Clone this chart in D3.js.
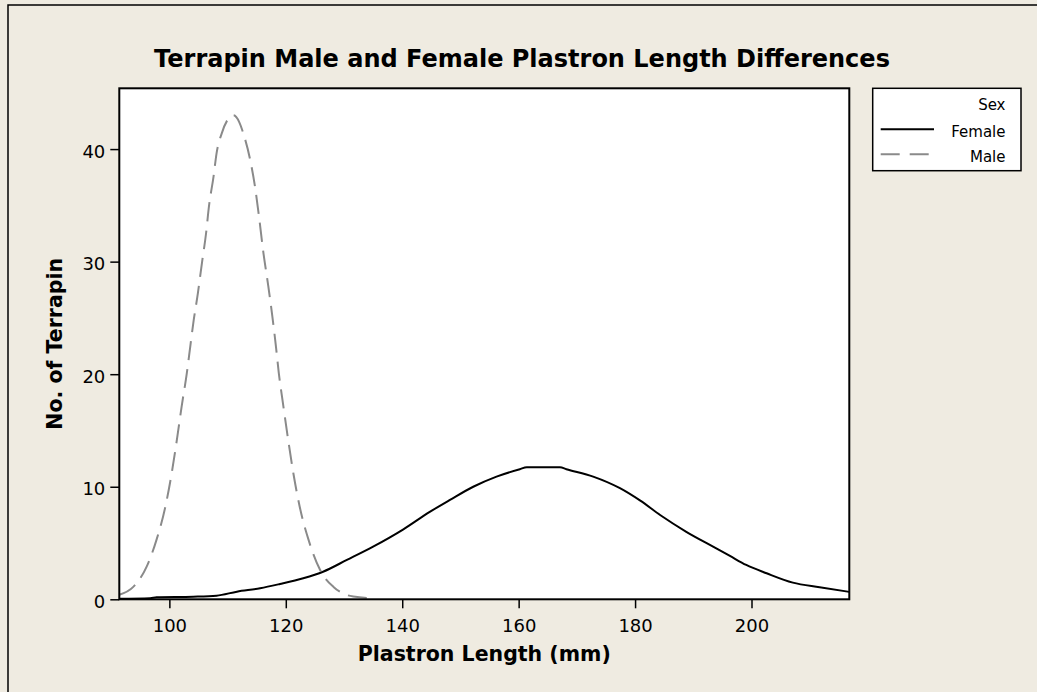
<!DOCTYPE html>
<html>
<head>
<meta charset="utf-8">
<script src="https://cdn.jsdelivr.net/npm/d3@7/dist/d3.min.js"></script>
<style>
  body { margin: 0; background: #efebe1; }
  text { font-family: "DejaVu Sans", Verdana, sans-serif; }
</style>
</head>
<body>
<div id="chart"></div>
<script>
// Values
const femaleLength = [91.4, 96.7, 97.8, 104.1, 108.1, 111.6, 115.6, 119.0, 123.0, 126.4, 130.5, 135.0,
  140.2, 144.8, 148.2, 152.2, 156.2, 160.2, 161.4, 167.1, 168.2, 172.8, 177.4, 180.9, 184.3,
  188.8, 193.4, 196.3, 199.1, 202.6, 207.1, 211.7, 216.8];
const femaleCount = [0.05, 0.1, 0.18, 0.23, 0.32, 0.68, 0.98, 1.36, 1.87, 2.45, 3.5, 4.68,
  6.22, 7.79, 8.83, 10.0, 10.9, 11.56, 11.73, 11.73, 11.56, 10.9, 9.87, 8.76, 7.49,
  6.0, 4.68, 3.85, 3.05, 2.31, 1.48, 1.07, 0.66];

const maleLength = [91.4, 93.8, 96.1, 97.8, 99.3, 100.4, 101.3, 102.1, 103.0, 103.6, 104.1, 104.9,
  105.6, 106.3, 106.8, 107.6, 108.1, 109.0, 110.0, 111.0, 112.0, 112.7, 113.9, 114.7, 115.4,
  116.1, 117.0, 117.7, 118.3, 118.8, 119.6, 120.4, 121.3, 122.4, 123.9, 125.9, 128.2, 129.9,
  131.6, 135.0];
const maleCount = [0.4, 1.1, 2.9, 5.3, 8.2, 11.2, 14.2, 17.1, 20.1, 22.5, 24.5, 27.2,
  29.9, 32.5, 34.9, 37.6, 39.6, 41.4, 42.6, 43.0, 42.4, 41.4, 39.0, 36.7, 34.0,
  31.0, 27.8, 25.1, 22.5, 20.1, 17.1, 14.2, 11.2, 8.2, 5.3, 2.6, 1.1, 0.5,
  0.25, 0.1];

const xTicks = [100, 120, 140, 160, 180, 200];
const yTicks = [0, 10, 20, 30, 40];
const seriesNames = ["Female", "Male"];

const width = 1037, height = 692;
const plot = { left: 119.3, right: 849.3, top: 88.3, bottom: 599.3 };

const svg = d3.select("#chart")
  .append("svg")
  .attr("width", width)
  .attr("height", height);

// page background and border (only top/left edge visible)
svg.append("rect").attr("width", width).attr("height", height).attr("fill", "#efebe1");
svg.append("path")
  .attr("d", `M8,${height} L8,5 L${width},5`)
  .attr("fill", "none")
  .attr("stroke", "#000")
  .attr("stroke-width", 1.5);

const x = d3.scaleLinear().domain([91.4, 216.8]).range([plot.left, plot.right]);
const y = d3.scaleLinear().domain([0, 45.4]).range([plot.bottom, plot.top]);

// plot area
svg.append("rect")
  .attr("x", plot.left).attr("y", plot.top)
  .attr("width", plot.right - plot.left).attr("height", plot.bottom - plot.top)
  .attr("fill", "#fff");

svg.append("clipPath").attr("id", "clip")
  .append("rect")
  .attr("x", plot.left).attr("y", plot.top)
  .attr("width", plot.right - plot.left).attr("height", plot.bottom - plot.top);

const line = d3.line()
  .x(d => x(d[0]))
  .y(d => y(d[1]))
  .curve(d3.curveMonotoneX);

const curves = svg.append("g").attr("clip-path", "url(#clip)");

curves.append("path")
  .datum(femaleLength.map((v, i) => [v, femaleCount[i]]))
  .attr("d", line)
  .attr("fill", "none")
  .attr("stroke", "#000")
  .attr("stroke-width", 2);

curves.append("path")
  .datum(maleLength.map((v, i) => [v, maleCount[i]]))
  .attr("d", line)
  .attr("fill", "none")
  .attr("stroke", "#8a8a8a")
  .attr("stroke-width", 2)
  .attr("stroke-dasharray", "19,9");

// axes
const xAxis = svg.append("g")
  .attr("transform", `translate(0,${plot.bottom})`)
  .call(d3.axisBottom(x).tickValues(xTicks).tickSize(9).tickPadding(11));

const yAxis = svg.append("g")
  .attr("transform", `translate(${plot.left},0)`)
  .call(d3.axisLeft(y).tickValues(yTicks).tickSize(9).tickPadding(5));

[xAxis, yAxis].forEach(a => {
  a.select(".domain").remove();
  a.selectAll(".tick line").attr("stroke", "#000").attr("stroke-width", 1.5);
  a.selectAll(".tick text")
    .attr("fill", "#000")
    .style("font-family", "DejaVu Sans")
    .style("font-size", "18px");
});
yAxis.selectAll(".tick text").attr("dy", "0.45em");

// frame on top
svg.append("rect")
  .attr("x", plot.left).attr("y", plot.top)
  .attr("width", plot.right - plot.left).attr("height", plot.bottom - plot.top)
  .attr("fill", "none")
  .attr("stroke", "#000")
  .attr("stroke-width", 2);

// titles
svg.append("text")
  .attr("x", 522).attr("y", 67)
  .attr("text-anchor", "middle")
  .style("font-weight", "bold")
  .style("font-size", "24px")
  .text("Terrapin Male and Female Plastron Length Differences");

svg.append("text")
  .attr("x", (plot.left + plot.right) / 2).attr("y", 661)
  .attr("text-anchor", "middle")
  .style("font-weight", "bold")
  .style("font-size", "20.5px")
  .text("Plastron Length (mm)");

svg.append("text")
  .attr("transform", `translate(62,${(plot.top + plot.bottom) / 2}) rotate(-90)`)
  .attr("text-anchor", "middle")
  .style("font-weight", "bold")
  .style("font-size", "20.5px")
  .text("No. of Terrapin");

// legend
const legend = svg.append("g");
legend.append("rect")
  .attr("x", 872.7).attr("y", 88.3)
  .attr("width", 148.3).attr("height", 82.4)
  .attr("fill", "#fff")
  .attr("stroke", "#000")
  .attr("stroke-width", 1.5);

legend.append("text")
  .attr("x", 1005.5).attr("y", 110)
  .attr("text-anchor", "end")
  .style("font-size", "15px")
  .text("Sex");

const legendStyles = [
  { stroke: "#000", dash: null },
  { stroke: "#8a8a8a", dash: "19,10" }
];
seriesNames.forEach((name, i) => {
  const ly = 129.3 + i * 25;
  legend.append("line")
    .attr("x1", 880.7).attr("x2", i === 0 ? 934 : 930)
    .attr("y1", ly).attr("y2", ly)
    .attr("stroke", legendStyles[i].stroke)
    .attr("stroke-width", 2)
    .attr("stroke-dasharray", legendStyles[i].dash);
  legend.append("text")
    .attr("x", 1005.5).attr("y", ly + 7.5)
    .attr("text-anchor", "end")
    .style("font-size", "15px")
    .text(name);
});
</script>
</body>
</html>
